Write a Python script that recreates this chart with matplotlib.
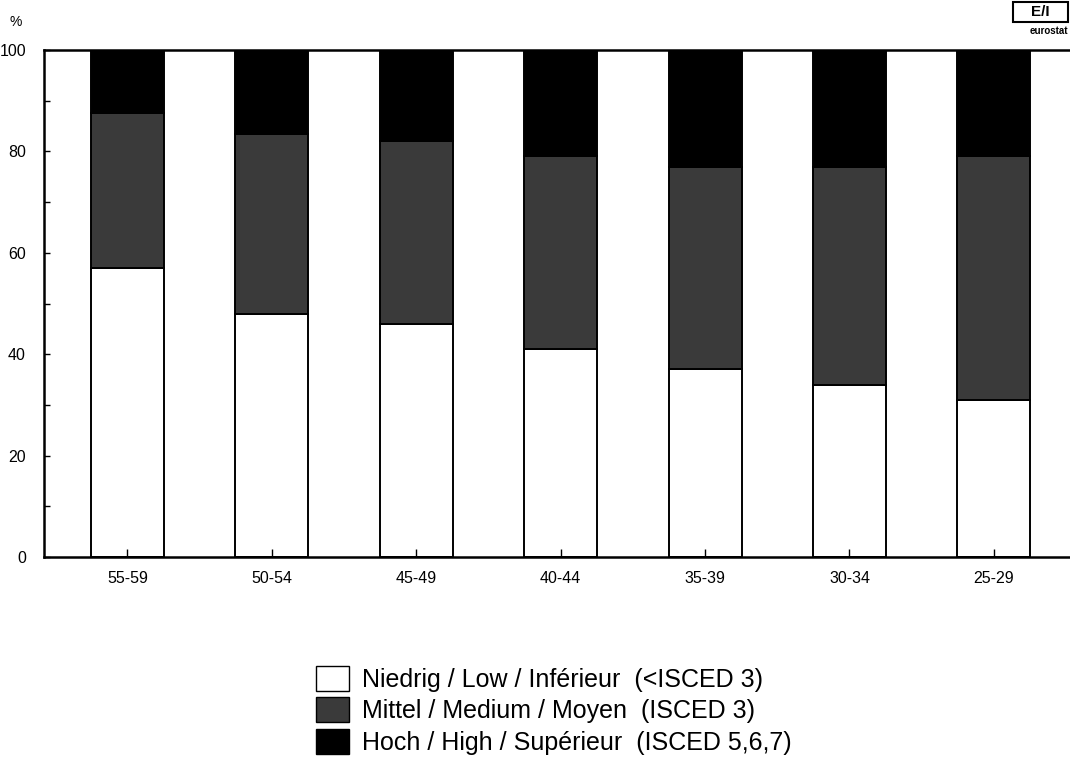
import matplotlib
matplotlib.use("Agg")
import matplotlib.pyplot as plt
from matplotlib.patches import Patch, Rectangle
import numpy as np

plt.rcParams['font.family'] = ['Liberation Sans', 'DejaVu Sans']

categories = ["55-59", "50-54", "45-49", "40-44", "35-39", "30-34", "25-29"]
low = [57, 48, 46, 41, 37, 34, 31]
medium = [30.5, 35.5, 36, 38, 40, 43, 48]
high = [12.5, 16.5, 18, 21, 23, 23, 21]
labels = ["Niedrig / Low / Inférieur  (<ISCED 3)",
          "Mittel / Medium / Moyen  (ISCED 3)",
          "Hoch / High / Supérieur  (ISCED 5,6,7)"]
colors = ["white", "#3a3a3a", "black"]

fig = plt.figure(figsize=(10.7, 7.76), dpi=100)
ax = fig.add_axes([44/1070, 1-557/776, (1073-44)/1070, (557-50)/776])

x = np.arange(len(categories))
w = 0.505
bottom = np.zeros(len(categories))
for vals, c in zip([low, medium, high], colors):
    ax.bar(x, vals, w, bottom=bottom, color=c, edgecolor="black", linewidth=1.4)
    bottom += np.array(vals)

ax.set_xlim(-0.578, 6.548)
ax.set_ylim(0, 100)
ax.set_yticks(range(0, 101, 20))
ax.set_yticks(range(10, 100, 20), minor=True)
ax.set_xticks(x)
ax.set_xticklabels(categories, fontsize=11.5)
ax.tick_params(axis='y', which='both', direction='in', length=4, width=1, labelsize=11.5, pad=13)
ax.tick_params(axis='x', direction='in', length=6, width=1, pad=10)
for s in ['left', 'bottom', 'top']:
    ax.spines[s].set_linewidth(1.8)
ax.spines['right'].set_visible(False)

fig.text(9/1070, 1-22/776, "%", fontsize=10, va='center', ha='left')

# eurostat logo
fig.patches.append(Rectangle((1013/1070, 1-22/776), 55/1070, 20/776, transform=fig.transFigure,
                             facecolor='white', edgecolor='black', linewidth=1.5))
fig.text(1040/1070, 1-12/776, "E/I", fontsize=11, fontweight='bold', ha='center', va='center')
fig.text(1068/1070, 1-31/776, "eurostat", fontsize=7, fontweight='bold', ha='right', va='center')

handles = [Patch(facecolor=c, edgecolor='black', linewidth=1) for c in colors]
fig.legend(handles, labels, loc='upper left', bbox_to_anchor=(316/1070, 1-666/776),
           frameon=False, fontsize=18, handlelength=1.3, handleheight=1.15,
           labelspacing=0.22, handletextpad=0.55, borderaxespad=0, borderpad=0)

fig.savefig("out.png", dpi=100)
